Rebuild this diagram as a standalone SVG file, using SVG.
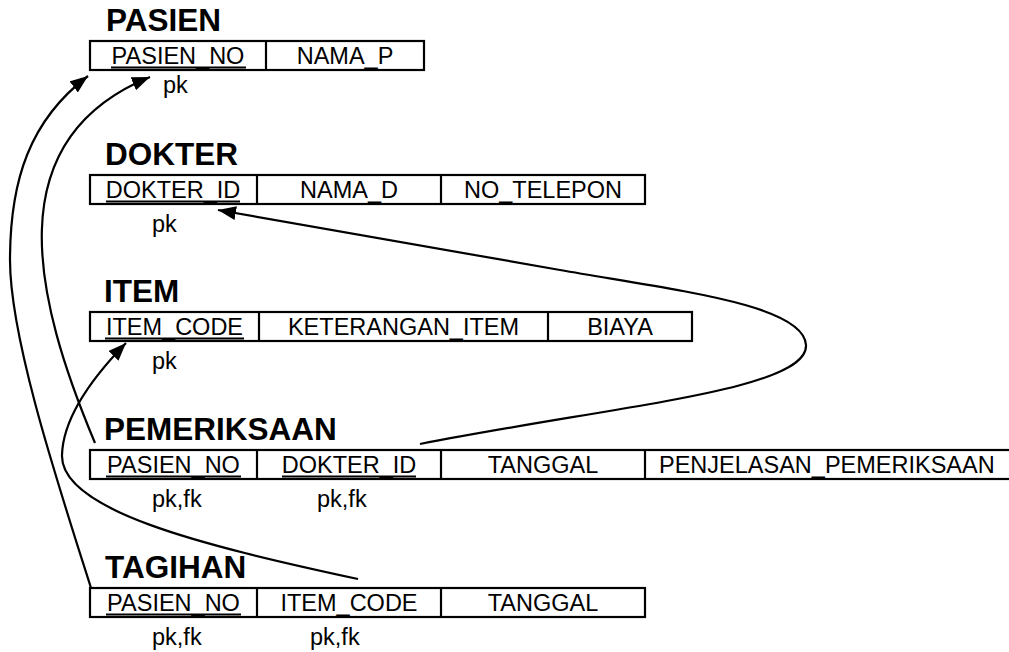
<svg xmlns="http://www.w3.org/2000/svg" width="1009" height="652" viewBox="0 0 1009 652">
<defs>
<style>
.title{font-family:"Liberation Sans",Arial,sans-serif;font-weight:bold;font-size:31.5px;fill:#000}
.cell{font-family:"Liberation Sans",Arial,sans-serif;font-size:23.5px;fill:#000;text-anchor:middle}
.note{font-family:"Liberation Sans",Arial,sans-serif;font-size:23.5px;fill:#000}
.box{fill:#fff;stroke:#000;stroke-width:2.2}
.div{stroke:#000;stroke-width:2.2}
.ul{stroke:#000;stroke-width:2}
.conn{fill:none;stroke:#000;stroke-width:2.2}
</style>
<marker id="ah" markerUnits="userSpaceOnUse" markerWidth="20" markerHeight="14" refX="18" refY="7" orient="auto">
<path d="M0,0 L18,7 L0,14 z" fill="#000"/>
</marker>
</defs>
<rect width="1009" height="652" fill="#fff"/>

<g id="pasien">
<text class="title" x="106" y="31">PASIEN</text>
<rect class="box" x="90" y="41" width="334" height="29"/>
<line class="div" x1="266" y1="41" x2="266" y2="70"/>
<text class="cell" x="178" y="64">PASIEN_NO</text>
<line class="ul" x1="111" y1="67.5" x2="246" y2="67.5"/>
<text class="cell" x="345" y="64">NAMA_P</text>
<text class="note" x="163" y="93">pk</text>
</g>

<g id="dokter">
<text class="title" x="105" y="165">DOKTER</text>
<rect class="box" x="90" y="175" width="555" height="29"/>
<line class="div" x1="257" y1="175" x2="257" y2="204"/>
<line class="div" x1="441" y1="175" x2="441" y2="204"/>
<text class="cell" x="173" y="198">DOKTER_ID</text>
<line class="ul" x1="106" y1="201.5" x2="240" y2="201.5"/>
<text class="cell" x="349" y="198">NAMA_D</text>
<text class="cell" x="543" y="198">NO_TELEPON</text>
<text class="note" x="152" y="232">pk</text>
</g>

<g id="item">
<text class="title" x="104" y="302">ITEM</text>
<rect class="box" x="90" y="312" width="602" height="29"/>
<line class="div" x1="259" y1="312" x2="259" y2="341"/>
<line class="div" x1="548" y1="312" x2="548" y2="341"/>
<text class="cell" x="174.5" y="335">ITEM_CODE</text>
<line class="ul" x1="105" y1="338.5" x2="244" y2="338.5"/>
<text class="cell" x="403.5" y="335">KETERANGAN_ITEM</text>
<text class="cell" x="620" y="335">BIAYA</text>
<text class="note" x="152" y="369">pk</text>
</g>

<g id="pemeriksaan">
<text class="title" x="104" y="440">PEMERIKSAAN</text>
<rect class="box" x="90" y="450" width="925" height="29"/>
<line class="div" x1="257" y1="450" x2="257" y2="479"/>
<line class="div" x1="441" y1="450" x2="441" y2="479"/>
<line class="div" x1="645" y1="450" x2="645" y2="479"/>
<text class="cell" x="173.5" y="473">PASIEN_NO</text>
<line class="ul" x1="106" y1="476.5" x2="241" y2="476.5"/>
<text class="cell" x="349" y="473">DOKTER_ID</text>
<line class="ul" x1="282" y1="476.5" x2="416" y2="476.5"/>
<text class="cell" x="543" y="473">TANGGAL</text>
<text class="note" x="659" y="473">PENJELASAN_PEMERIKSAAN</text>
<text class="note" x="152" y="507">pk,fk</text>
<text class="note" x="317" y="507">pk,fk</text>
</g>

<g id="tagihan">
<text class="title" x="105" y="578">TAGIHAN</text>
<rect class="box" x="90" y="588" width="555" height="29"/>
<line class="div" x1="257" y1="588" x2="257" y2="617"/>
<line class="div" x1="441" y1="588" x2="441" y2="617"/>
<text class="cell" x="173.5" y="611">PASIEN_NO</text>
<line class="ul" x1="106" y1="614.5" x2="241" y2="614.5"/>
<text class="cell" x="349" y="611">ITEM_CODE</text>
<text class="cell" x="543" y="611">TANGGAL</text>
<text class="note" x="152" y="645">pk,fk</text>
<text class="note" x="310" y="645">pk,fk</text>
</g>

<g id="connectors">
<path class="conn" marker-end="url(#ah)" d="M91,588 C60,490 10,340 10,260 C10,180 30,120 88,76"/>
<path class="conn" marker-end="url(#ah)" d="M95,443 C35,300 -5,140 150,77"/>
<path class="conn" marker-end="url(#ah)" d="M420,444 C620,405 808,390 806,345 C804,305 680,291 560,270 L218,210"/>
<path class="conn" marker-end="url(#ah)" d="M358,579 C200,545 60,510 62,455 C63,420 90,380 126,343"/>
</g>
</svg>
